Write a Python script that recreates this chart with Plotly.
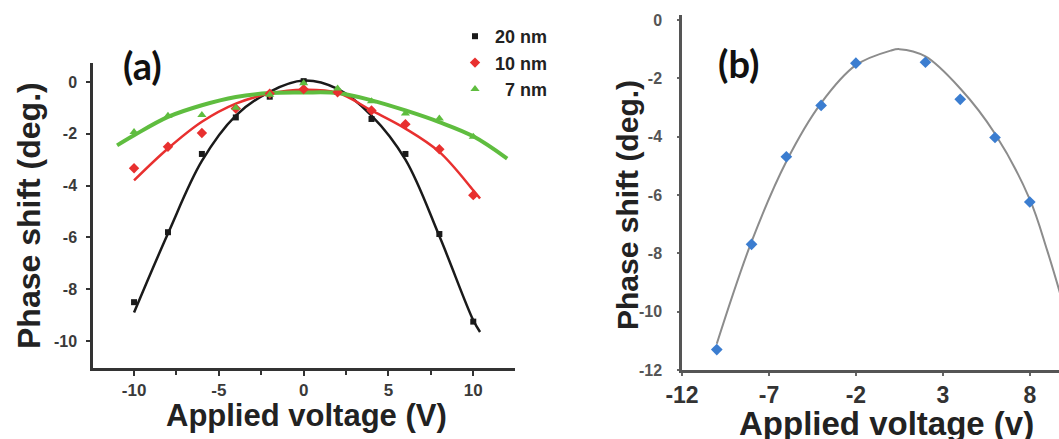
import plotly.graph_objects as go

W, H = 1059, 439

# ---- panel (a): phase shift vs applied voltage for three thicknesses ----
volts_a = [-10, -8, -6, -4, -2, 0, 2, 4, 6, 8, 10]
phase_20nm = [-8.5, -5.8, -2.78, -1.37, -0.57, 0.03, -0.37, -1.43, -2.78, -5.87, -9.25]
phase_10nm = [-3.33, -2.5, -1.97, -1.03, -0.45, -0.28, -0.4, -1.1, -1.63, -2.6, -4.37]
phase_7nm = [-1.93, -1.31, -1.28, -1.0, -0.5, -0.05, -0.25, -0.75, -1.22, -1.41, -2.12]

# fitted trend curves for panel (a)
fit_x_20 = [-10, -8, -6, -4, -2, 0, 2, 4, 6, 8, 10, 10.4]
fit_y_20 = [-8.9, -5.85, -3.05, -1.3, -0.38, 0.05, -0.27, -1.3, -3.0, -5.95, -9.2, -9.65]
fit_x_10 = [-10, -8, -6, -4, -2, 0, 2, 4, 6, 8, 10, 10.4]
fit_y_10 = [-3.8, -2.57, -1.54, -0.84, -0.45, -0.3, -0.42, -1.1, -1.8, -2.7, -4.18, -4.5]
fit_x_7 = [-11, -10, -8, -6, -4, -2, 0, 2, 4, 6, 8, 10, 12]
fit_y_7 = [-2.45, -2.06, -1.35, -0.9, -0.58, -0.43, -0.41, -0.43, -0.71, -1.1, -1.55, -2.1, -2.96]

# ---- panel (b) ----
volts_b = [-10, -8, -6, -4, -2, 2, 4, 6, 8]
phase_b = [-11.3, -7.69, -4.69, -2.93, -1.48, -1.45, -2.72, -4.03, -6.24]
fit_x_b = [-10, -8, -6, -4, -2, 0, 0.5, 2, 4, 6, 8, 9, 10]
fit_y_b = [-11.1, -7.6, -4.85, -2.85, -1.55, -1.05, -1.0, -1.25, -2.35, -3.9, -6.15, -7.9, -9.9]

# tick positions and their printed labels (plain hyphen minus)
ticks_a_x = [-10, -5, 0, 5, 10]
ticks_a_y = [0, -2, -4, -6, -8, -10]
ticks_b_x = [-12, -7, -2, 3, 8]
ticks_b_y = [0, -2, -4, -6, -8, -10, -12]


def labels(vals):
    return [str(v) for v in vals]


BLACK, RED, GREEN, BLUE, GREY = "#1a1a1a", "#e8302f", "#5fbd3f", "#3b7dd0", "#8c8c8c"
FONT = "Liberation Sans, Arial, sans-serif"


def px(x):
    return x / W


def py(y):
    return 1 - y / H


fig = go.Figure()

# fit curves (a)
for fx, fy, col, w in [(fit_x_20, fit_y_20, BLACK, 2.5),
                       (fit_x_10, fit_y_10, RED, 2.5),
                       (fit_x_7, fit_y_7, GREEN, 4)]:
    fig.add_trace(go.Scatter(x=fx, y=fy, mode="lines", showlegend=False,
                             line=dict(color=col, width=w, shape="spline", smoothing=1),
                             xaxis="x", yaxis="y"))

# data points (a)
for yv, name, col, sym, size in [(phase_20nm, "20 nm", BLACK, "square", 6),
                                 (phase_10nm, "10 nm", RED, "diamond", 8),
                                 (phase_7nm, "\u20077 nm", GREEN, "triangle-up", 8)]:
    fig.add_trace(go.Scatter(x=volts_a, y=yv, mode="markers", name=name,
                             marker=dict(color=col, symbol=sym, size=size),
                             xaxis="x", yaxis="y"))

# panel (b)
fig.add_trace(go.Scatter(x=fit_x_b, y=fit_y_b, mode="lines", showlegend=False,
                         line=dict(color=GREY, width=2, shape="spline", smoothing=1),
                         xaxis="x2", yaxis="y2"))
fig.add_trace(go.Scatter(x=volts_b, y=phase_b, mode="markers", showlegend=False,
                         marker=dict(color=BLUE, symbol="diamond", size=9),
                         xaxis="x2", yaxis="y2"))

axis_common = dict(showgrid=False, zeroline=False, showline=True, ticks="outside",
                   automargin=False, tickmode="array")

fig.update_layout(
    template="none",
    width=W, height=H,
    margin=dict(l=0, r=0, t=0, b=0, autoexpand=False),
    paper_bgcolor="white", plot_bgcolor="white",
    xaxis=dict(**axis_common, domain=[px(93), px(515)], range=[-12.42, 12.46],
               tickvals=ticks_a_x, ticktext=labels(ticks_a_x),
               linecolor="#333", linewidth=2.5,
               tickcolor="#333", tickwidth=2, ticklen=5,
               minor=dict(tickvals=[-7.5, -2.5, 2.5, 7.5], ticklen=4, tickwidth=2,
                          tickcolor="#333", ticks="outside"),
               tickfont=dict(family=FONT, size=17, color="#3a3a3a", weight="bold"),
               anchor="y"),
    yaxis=dict(**axis_common, domain=[py(368), py(63)], range=[-11.04, 0.73],
               tickvals=ticks_a_y, ticktext=labels(ticks_a_y),
               linecolor="#333", linewidth=2.5,
               tickcolor="#333", tickwidth=2, ticklen=4, ticklabelstandoff=6,
               tickfont=dict(family=FONT, size=16, color="#3a3a3a", weight="bold"),
               anchor="x"),
    xaxis2=dict(**axis_common, domain=[px(682), 1.0], range=[-12, 9.68],
                tickvals=ticks_b_x, ticktext=labels(ticks_b_x),
                linecolor="#555", linewidth=2.5,
                tickcolor="#666", tickwidth=1.5, ticklen=3,
                tickfont=dict(family=FONT, size=23, color="#333", weight="bold"),
                anchor="y2"),
    yaxis2=dict(**axis_common, domain=[py(370), py(15)], range=[-12, 0.17],
                tickvals=ticks_b_y, ticktext=labels(ticks_b_y),
                linecolor="#555", linewidth=2.5,
                tickcolor="#666", tickwidth=1.5, ticklen=2, ticklabelstandoff=12,
                tickfont=dict(family=FONT, size=16, color="#555", weight="bold"),
                anchor="x2"),
    legend=dict(x=px(455), y=py(18), xanchor="left", yanchor="top",
                bgcolor="rgba(0,0,0,0)", tracegroupgap=0, borderwidth=0,
                font=dict(family=FONT, size=18, color="#222", weight="bold")),
)

annotations = [
    dict(text="(a)", x=px(142), y=py(65), font=dict(family="Lato, sans-serif", size=38, color="#111", weight="bold")),
    dict(text="(b)", x=px(738), y=py(63), font=dict(family="Lato, sans-serif", size=38, color="#111", weight="bold")),
    dict(text="Phase shift (deg.)", x=px(29), y=py(216), textangle=-90,
         font=dict(family=FONT, size=32, color="#222", weight="bold")),
    dict(text="Applied voltage (V)", x=px(306), y=py(415),
         font=dict(family=FONT, size=31, color="#222", weight="bold")),
    dict(text="Phase shift (deg.)", x=px(627), y=py(205), textangle=-90,
         font=dict(family=FONT, size=30, color="#222", weight="bold")),
    dict(text="Applied voltage (v)", x=px(886), y=py(423),
         font=dict(family=FONT, size=33, color="#222", weight="bold")),
]
for a in annotations:
    a.update(xref="paper", yref="paper", showarrow=False, xanchor="center", yanchor="middle")
fig.update_layout(annotations=annotations)

fig.write_html("out.html")
